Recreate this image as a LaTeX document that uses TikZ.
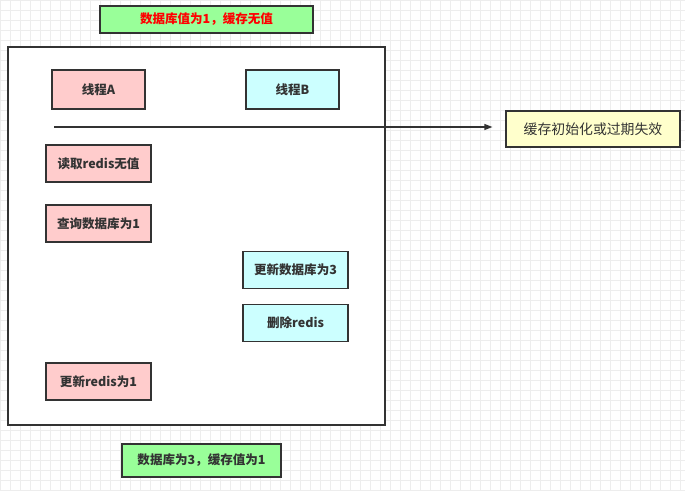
\documentclass[tikz,border=0pt]{standalone}
\usepackage{fontspec}
\setmainfont{Noto Sans CJK SC}
\usepackage{xcolor}
\usetikzlibrary{arrows.meta,positioning}

\definecolor{pinkfill}{HTML}{FFCCCC}
\definecolor{cyanfill}{HTML}{CCFFFF}
\definecolor{greenfill}{HTML}{99FF99}
\definecolor{yellowfill}{HTML}{FFFFCC}
\definecolor{linegray}{HTML}{333333}
\definecolor{gridgray}{HTML}{EDEDED}

\begin{document}
\begin{tikzpicture}[
    x=0.75pt, y=-0.75pt,
    box/.style={draw=linegray, line width=0.9pt, align=center, inner sep=0pt, font=\fontsize{9.4}{11}\selectfont\bfseries, text=linegray},
    thbox/.style={box, minimum width=69.75pt, minimum height=29.25pt},
    pbox/.style={box, minimum width=78.75pt, minimum height=27.75pt},
    arrow/.style={-{Triangle[length=6pt, width=4.5pt]}, draw=linegray, line width=0.9pt}
]
\useasboundingbox (0,0) rectangle (685,491);
% background grid
\foreach \gx in {0,10,...,680} \draw[gridgray, line width=0.6pt] (\gx,0) -- (\gx,491);
\foreach \gy in {0,10,...,490} \draw[gridgray, line width=0.6pt] (0,\gy) -- (685,\gy);

\node[draw=linegray, line width=0.9pt, fill=white, minimum width=282.75pt, minimum height=283.5pt, inner sep=0pt] (frame) at (196.5,236) {};

\node[box, fill=greenfill, text=red, minimum width=159.75pt, minimum height=20.25pt] (before) at (206.5,19.5) {数据库值为1，缓存无值};
\node[thbox, fill=pinkfill] (thA) at (98.5,89.5) {线程A};
\node[thbox, fill=cyanfill] (thB) at (292.5,89.5) {线程B};
\node[box, fill=yellowfill, font=\fontsize{10.4}{12}\selectfont, minimum width=130.5pt, minimum height=27pt] (init) at (593,129) {缓存初始化或过期失效};

\node[pbox, fill=pinkfill] (read) at (98.5,163.5) {读取redis无值};
\node[pbox, fill=pinkfill] (query) at (98.5,223.5) {查询数据库为1};
\node[pbox, fill=cyanfill] (upddb) at (295.5,270) {更新数据库为3};
\node[pbox, fill=cyanfill] (del) at (295.5,323) {删除redis};
\node[pbox, fill=pinkfill] (setredis) at (98.5,381.5) {更新redis为1};

\node[box, fill=greenfill, minimum width=119.25pt, minimum height=24.75pt] (after) at (201.5,460.5) {数据库为3，缓存值为1};

\coordinate (tstart) at (54,127);
\draw[arrow, shorten >=9.75pt] (tstart) -- (tstart -| init.west);
\end{tikzpicture}
\end{document}
